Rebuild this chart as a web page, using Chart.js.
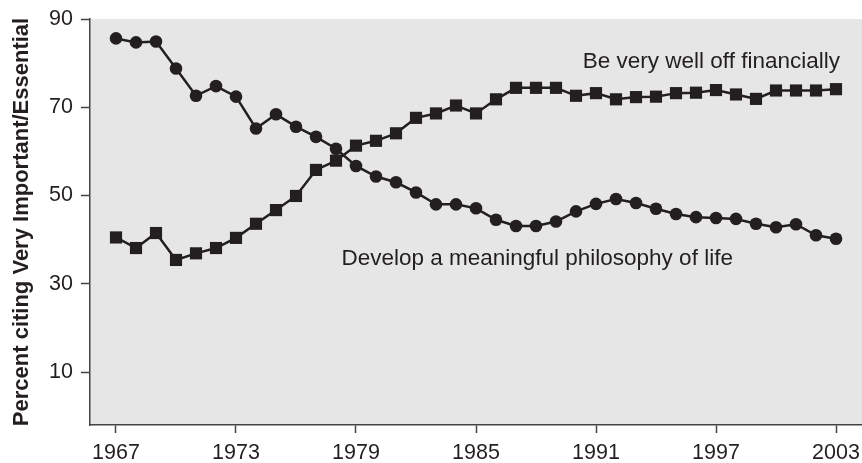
<!DOCTYPE html>
<html>
<head>
<meta charset="utf-8">
<script src="https://cdn.jsdelivr.net/npm/chart.js@4"></script>
<style>
  html, body { margin: 0; padding: 0; background: #fff; overflow: hidden; }
  #wrap { width: 862px; height: 463px; }
</style>
</head>
<body>
<div id="wrap"><canvas id="chart"></canvas></div>
<script>
const years = [];
for (let y = 1967; y <= 2003; y++) years.push(y);

// philosophy of life (circles)
const philosophy = [85.6, 84.7, 84.9, 78.8, 72.6, 74.8, 72.4, 65.2, 68.4, 65.6,
    63.3, 60.6, 56.7, 54.3, 53.0, 50.7, 48.0, 48.0, 47.1, 44.5,
    43.1, 43.1, 44.1, 46.4, 48.1, 49.2, 48.3, 47.0, 45.8, 45.1,
    44.9, 44.7, 43.6, 42.8, 43.5, 41.0, 40.2];

// well off financially (squares)
const financial = [40.5, 38.1, 41.5, 35.4, 36.9, 38.1, 40.4, 43.6, 46.7, 49.9,
    55.8, 57.9, 61.3, 62.4, 64.1, 67.6, 68.6, 70.4, 68.6, 71.8,
    74.4, 74.4, 74.4, 72.6, 73.2, 71.8, 72.3, 72.4, 73.2, 73.3,
    73.9, 72.9, 71.9, 73.8, 73.8, 73.8, 74.1];

const xTicks = [1967, 1973, 1979, 1985, 1991, 1997, 2003];
const yTicks = [10, 30, 50, 70, 90];

const ink = '#231f20';
const fam = '"Liberation Sans", Arial, sans-serif';

const plotBg = {
    id: 'plotBg',
    beforeDraw(chart) {
        const {ctx, chartArea: a} = chart;
        ctx.save();
        ctx.fillStyle = '#e6e6e6';
        ctx.fillRect(a.left, a.top, a.right - a.left, a.bottom - a.top);
        ctx.restore();
    }
};

const lineLabels = {
    id: 'lineLabels',
    afterDatasetsDraw(chart) {
        const {ctx, scales: {x, y}} = chart;
        ctx.save();
        ctx.fillStyle = ink;
        ctx.font = '22.5px ' + fam;
        ctx.textBaseline = 'middle';
        ctx.textAlign = 'right';
        ctx.fillText('Be very well off financially', x.getPixelForValue(2003.2), y.getPixelForValue(80.3));
        ctx.textAlign = 'left';
        ctx.fillText('Develop a meaningful philosophy of life', x.getPixelForValue(1978.27), y.getPixelForValue(35.6));
        ctx.restore();
    }
};

new Chart(document.getElementById('chart'), {
    type: 'line',
    data: {
        datasets: [
            {
                label: 'Develop a meaningful philosophy of life',
                data: years.map((yr, i) => ({x: yr, y: philosophy[i]})),
                borderColor: ink,
                backgroundColor: ink,
                borderWidth: 2.5,
                pointStyle: 'circle',
                pointRadius: 6.3,
                pointBorderWidth: 0,
                tension: 0
            },
            {
                label: 'Be very well off financially',
                data: years.map((yr, i) => ({x: yr, y: financial[i]})),
                borderColor: ink,
                backgroundColor: ink,
                borderWidth: 2.5,
                pointStyle: 'rect',
                pointRadius: 8.6,
                pointBorderWidth: 0,
                tension: 0
            }
        ]
    },
    options: {
        responsive: true,
        maintainAspectRatio: false,
        animation: false,
        layout: { autoPadding: false, padding: { top: 19, right: 0, left: 0, bottom: 0 } },
        scales: {
            x: {
                type: 'linear',
                min: 1965.7,
                max: 2004.3,
                afterBuildTicks: s => { s.ticks = xTicks.map(v => ({value: v})); },
                afterFit: s => { s.height = 38; s.paddingLeft = 0; s.paddingRight = 0; },
                ticks: {
                    color: ink,
                    font: { size: 21.5, family: fam },
                    padding: 7,
                    maxRotation: 0,
                    autoSkip: false,
                    callback: v => String(v)
                },
                grid: {
                    drawOnChartArea: false,
                    drawTicks: true,
                    tickLength: 8,
                    tickWidth: 1.5,
                    tickColor: '#444'
                },
                border: { display: true, color: '#444', width: 1.5 }
            },
            y: {
                min: -2,
                max: 90,
                afterBuildTicks: s => { s.ticks = yTicks.map(v => ({value: v})); },
                afterFit: s => { s.width = 90; s.paddingTop = 0; s.paddingBottom = 0; },
                ticks: {
                    color: ink,
                    font: { size: 21.5, family: fam },
                    padding: 8
                },
                grid: {
                    drawOnChartArea: false,
                    drawTicks: true,
                    tickLength: 9,
                    tickWidth: 1.5,
                    tickColor: '#444'
                },
                border: { display: true, color: '#444', width: 1.5 },
                title: {
                    display: true,
                    text: 'Percent citing Very Important/Essential',
                    color: ink,
                    font: { size: 22, weight: 'bold', family: fam },
                    padding: { top: 9, bottom: 0 }
                }
            }
        },
        plugins: {
            legend: { display: false },
            tooltip: { enabled: false }
        }
    },
    plugins: [plotBg, lineLabels]
});
</script>
</body>
</html>
